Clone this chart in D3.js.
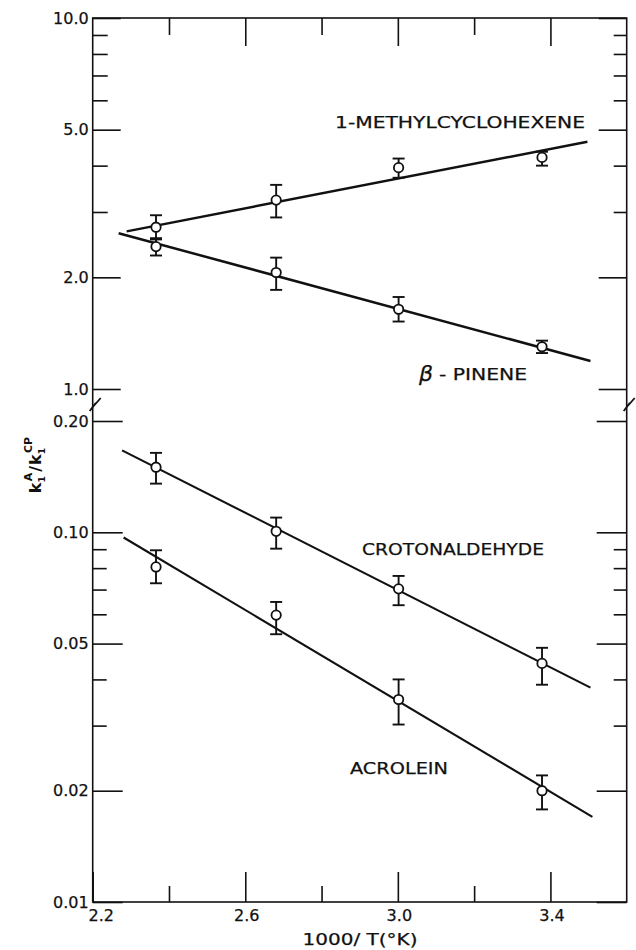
<!DOCTYPE html>
<head>
    <meta charset="utf-8">
    <title>k1A/k1CP vs 1000/T</title>
    <script src="https://d3js.org/d3.v7.min.js"></script>
</head>

<body>
<svg id="chart" width="636" height="950"></svg>
</body>

<script>

    // 1000/T of the four runs
    var invT = [2.366, 2.681, 3.002, 3.378]

    // upper panel
    var mch    = [2.73, 3.23, 3.95, 4.21]
    var mchLo  = [2.55, 2.90, 3.71, 4.00]
    var mchHi  = [2.94, 3.55, 4.18, 4.36]
    var mchFit = [[2.289, 2.66], [3.497, 4.64]]

    var pinene    = [2.42, 2.06, 1.64, 1.30]
    var pineneLo  = [2.29, 1.85, 1.52, 1.25]
    var pineneHi  = [2.53, 2.26, 1.77, 1.35]
    var pineneFit = [[2.268, 2.63], [3.505, 1.19]]

    // lower panel
    var croton    = [0.150, 0.1006, 0.0703, 0.0442]
    var crotonLo  = [0.1354, 0.0903, 0.0635, 0.0387]
    var crotonHi  = [0.164, 0.1096, 0.0762, 0.0487]
    var crotonFit = [[2.277, 0.1666], [3.505, 0.0380]]

    var acrolein    = [0.0806, 0.0597, 0.0353, 0.0200]
    var acroleinLo  = [0.0728, 0.0530, 0.0302, 0.0178]
    var acroleinHi  = [0.0894, 0.0648, 0.0400, 0.0220]
    var acroleinFit = [[2.281, 0.0968], [3.51, 0.0170]]

    // ticks
    var xMajor = [2.2, 2.6, 3.0, 3.4]
    var xMinor = [2.4, 2.8, 3.2]
    var topMajor = [10, 5, 2, 1]
    var topMinor = [9, 8, 7, 6, 4, 3]
    var botMajor = [0.2, 0.1, 0.05, 0.02, 0.01]
    var botMinor = [0.09, 0.08, 0.07, 0.06, 0.04, 0.03]

    var pL = 92.7, pR = 626.7, pT = 18, pB = 902

    var svg = d3.select("#chart")
    svg.append("rect").attr("width", 636).attr("height", 950).attr("fill", "white")

    var x = d3.scaleLinear().domain([2.2, 3.6]).range([pL, pR])
    var yTop = d3.scaleLog().domain([1, 10]).range([389, pT])
    var yBot = d3.scaleLog().domain([0.01, 0.2]).range([pB, 421])

    function fmt(d) {
        if (d >= 1) return d3.format(".1f")(d)
        return d3.format(".2f")(d)
    }

    function styleAxis(g) {
        g.select(".domain").remove()
        g.selectAll("line").attr("stroke", "#111").attr("stroke-width", 1.6)
        g.selectAll("text").attr("fill", "#111").attr("stroke", "#111").attr("stroke-width", 0.25)
            .style("font-family", "DejaVu Sans, sans-serif").style("font-size", "16px")
    }

    // left axis (ticks inward)
    svg.append("g").attr("transform", "translate(" + pL + ",0)")
        .call(d3.axisLeft(yTop).tickValues(topMajor).tickFormat(fmt).tickSizeInner(-28).tickSizeOuter(0).tickPadding(4))
        .call(styleAxis)
    svg.append("g").attr("transform", "translate(" + pL + ",0)")
        .call(d3.axisLeft(yTop).tickValues(topMinor).tickFormat("").tickSizeInner(-15).tickSizeOuter(0))
        .call(styleAxis)
    svg.append("g").attr("transform", "translate(" + pL + ",0)")
        .call(d3.axisLeft(yBot).tickValues(botMajor).tickFormat(fmt).tickSizeInner(-30).tickSizeOuter(0).tickPadding(4))
        .call(styleAxis)
    svg.append("g").attr("transform", "translate(" + pL + ",0)")
        .call(d3.axisLeft(yBot).tickValues(botMinor).tickFormat("").tickSizeInner(-14).tickSizeOuter(0))
        .call(styleAxis)

    // right axis
    svg.append("g").attr("transform", "translate(" + pR + ",0)")
        .call(d3.axisLeft(yTop).tickValues(topMajor).tickFormat("").tickSizeInner(28).tickSizeOuter(0))
        .call(styleAxis)
    svg.append("g").attr("transform", "translate(" + pR + ",0)")
        .call(d3.axisLeft(yTop).tickValues(topMinor).tickFormat("").tickSizeInner(13).tickSizeOuter(0))
        .call(styleAxis)
    svg.append("g").attr("transform", "translate(" + pR + ",0)")
        .call(d3.axisLeft(yBot).tickValues(botMajor).tickFormat("").tickSizeInner(30).tickSizeOuter(0))
        .call(styleAxis)
    svg.append("g").attr("transform", "translate(" + pR + ",0)")
        .call(d3.axisLeft(yBot).tickValues(botMinor).tickFormat("").tickSizeInner(13).tickSizeOuter(0))
        .call(styleAxis)

    // bottom axis
    var xb = svg.append("g").attr("transform", "translate(0," + pB + ")")
        .call(d3.axisBottom(x).tickValues(xMajor).tickFormat(d3.format(".1f")).tickSizeInner(-30).tickSizeOuter(0).tickPadding(5))
        .call(styleAxis)
    xb.selectAll("text").attr("dy", "0.85em").attr("dx", function(d) { return d == 2.2 ? 8 : 1 })
    svg.append("g").attr("transform", "translate(0," + pB + ")")
        .call(d3.axisBottom(x).tickValues(xMinor).tickFormat("").tickSizeInner(-16).tickSizeOuter(0))
        .call(styleAxis)

    // top axis
    svg.append("g").attr("transform", "translate(0," + pT + ")")
        .call(d3.axisTop(x).tickValues(xMajor.slice(1)).tickFormat("").tickSizeInner(-28).tickSizeOuter(0))
        .call(styleAxis)
    svg.append("g").attr("transform", "translate(0," + pT + ")")
        .call(d3.axisTop(x).tickValues(xMinor).tickFormat("").tickSizeInner(-17).tickSizeOuter(0))
        .call(styleAxis)

    // frame
    svg.append("rect").attr("x", pL).attr("y", pT)
        .attr("width", pR - pL).attr("height", pB - pT)
        .attr("fill", "none").attr("stroke", "#111").attr("stroke-width", 1.6)

    // axis break marks
    var brk = [pL, pR]
    svg.selectAll(".brk").data(brk).enter().append("path")
        .attr("class", "brk")
        .attr("d", function(d) {
            return "M" + (d - 3) + "," + 411 + " L" + (d + 3) + "," + 403 + " L" + (d + 1) + "," + 406 + " L" + (d + 8) + "," + 398
        })
        .attr("fill", "none").attr("stroke", "#111").attr("stroke-width", 1.8)

    // fitted lines
    function drawFit(pts, y, w) {
        svg.append("path")
            .datum(pts)
            .attr("d", d3.line().x(function(d) { return x(d[0]) }).y(function(d) { return y(d[1]) }))
            .attr("fill", "none").attr("stroke", "#111").attr("stroke-width", w)
    }
    drawFit(mchFit, yTop, 2.5)
    drawFit(pineneFit, yTop, 2.5)
    drawFit(crotonFit, yBot, 2.1)
    drawFit(acroleinFit, yBot, 2.1)

    // points with error bars
    function drawPoints(vals, lo, hi, y) {
        var g = svg.append("g")
        var cap = 6
        invT.forEach(function(t, i) {
            var cx = x(t)
            g.append("line").attr("x1", cx).attr("x2", cx).attr("y1", y(lo[i])).attr("y2", y(hi[i]))
                .attr("stroke", "#111").attr("stroke-width", 1.9)
            g.append("line").attr("x1", cx - cap).attr("x2", cx + cap).attr("y1", y(lo[i])).attr("y2", y(lo[i]))
                .attr("stroke", "#111").attr("stroke-width", 1.9)
            g.append("line").attr("x1", cx - cap).attr("x2", cx + cap).attr("y1", y(hi[i])).attr("y2", y(hi[i]))
                .attr("stroke", "#111").attr("stroke-width", 1.9)
            g.append("circle").attr("cx", cx).attr("cy", y(vals[i])).attr("r", 4.7)
                .attr("fill", "white").attr("stroke", "#111").attr("stroke-width", 1.8)
        })
    }
    drawPoints(mch, mchLo, mchHi, yTop)
    drawPoints(pinene, pineneLo, pineneHi, yTop)
    drawPoints(croton, crotonLo, crotonHi, yBot)
    drawPoints(acrolein, acroleinLo, acroleinHi, yBot)

    // series labels
    function label(txt, lx, ly, len) {
        return svg.append("text").attr("x", lx).attr("y", ly).text(txt)
            .attr("textLength", len).attr("lengthAdjust", "spacingAndGlyphs")
            .style("font-family", "DejaVu Sans, sans-serif").style("font-size", "16px")
            .attr("fill", "#111").attr("stroke", "#111").attr("stroke-width", 0.25)
    }
    label("1-METHYLCYCLOHEXENE", 335, 128, 250)
    label("CROTONALDEHYDE", 362, 555, 182)
    label("ACROLEIN", 350, 774, 98)
    label("- PINENE", 439, 380, 88)

    svg.append("text").attr("x", 419).attr("y", 381).text("β")
        .style("font-family", "DejaVu Sans, sans-serif").style("font-size", "22px").style("font-style", "italic")
        .attr("fill", "#111").attr("stroke", "#111").attr("stroke-width", 0.25)

    // axis titles
    svg.append("text").attr("x", 360).attr("y", 945).attr("text-anchor", "middle")
        .text("1000/ T(°K)").attr("textLength", 115).attr("lengthAdjust", "spacingAndGlyphs")
        .style("font-family", "DejaVu Sans, sans-serif").style("font-size", "16px")
        .attr("fill", "#111").attr("stroke", "#111").attr("stroke-width", 0.25)

    var yl = svg.append("text").attr("transform", "translate(41,465) rotate(-90)")
        .attr("text-anchor", "middle")
        .style("font-family", "DejaVu Sans, sans-serif").style("font-weight", "bold").attr("fill", "#111")
    yl.append("tspan").text("k").style("font-size", "16px")
    yl.append("tspan").text("1").style("font-size", "9px").attr("dy", 4)
    yl.append("tspan").text("A").style("font-size", "11px").attr("dy", -13).attr("dx", -5)
    yl.append("tspan").text("/").style("font-size", "16px").attr("dy", 9).attr("dx", 1)
    yl.append("tspan").text("k").style("font-size", "16px").attr("dx", 1)
    yl.append("tspan").text("1").style("font-size", "9px").attr("dy", 4)
    yl.append("tspan").text("CP").style("font-size", "11px").attr("dy", -13).attr("dx", -5)

</script>

<style>
    html, body {
        margin: 0;
        background: white;
    }
</style>

</html>
